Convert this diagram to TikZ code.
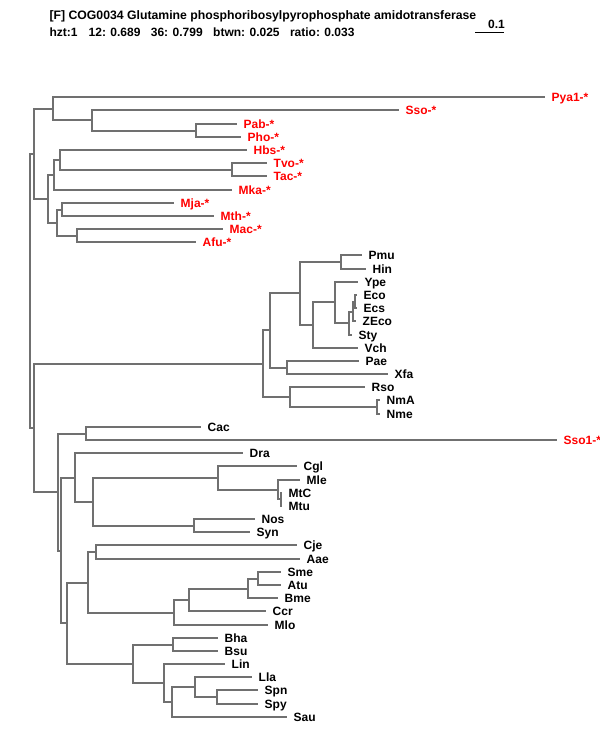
\documentclass[tikz,border=0pt]{standalone}
\usepackage{fontspec}
\setmainfont{Liberation Sans}
\definecolor{brc}{RGB}{112,112,112}
\newcommand\mkleaf[5]{\coordinate (#1) at (#2,#3); \node[#5] (t#1) at (#1) {#4};}
\begin{document}
\begin{tikzpicture}[x=1pt,y=-1pt,
  br/.style={draw=brc,line width=2pt},
  txt/.style={inner sep=0pt,font=\bfseries\fontsize{12}{14}\selectfont},
  lab/.style={txt,anchor=base west,xshift=6.5pt,yshift=-4.5pt},
  rl/.style={lab,text=red},
  bl/.style={lab,text=black}]
\fill[white] (0,0) rectangle (600,750);
\useasboundingbox (0,0) rectangle (600,750);
% header
\node[txt,anchor=base west,font=\bfseries\fontsize{12.25}{14}\selectfont] (title) at (49.3,19) {[F] COG0034 Glutamine phosphoribosylpyrophosphate amidotransferase};
\node[txt,anchor=base west] (h1) at (49.3,36.7) {hzt:1};
\node[txt,anchor=base west] (h2) at (88.5,36.7) {12: 0.689};
\node[txt,anchor=base west] (h3) at (150.7,36.7) {36: 0.799};
\node[txt,anchor=base west] (h4) at (213,36.7) {btwn: 0.025};
\node[txt,anchor=base west] (h5) at (289.8,36.7) {ratio: 0.033};
\coordinate (sb1) at (475,32.5);
\coordinate (sb2) at (504,32.5);
\draw[black,line width=1pt] (sb1) -- (sb2);
\node[txt,anchor=base east] (sbl) at (505,28.3) {0.1};
% leaves
\mkleaf{Pya1}{545}{97}{Pya1-*}{rl}
\mkleaf{Sso}{399}{110}{Sso-*}{rl}
\mkleaf{Pab}{237}{124}{Pab-*}{rl}
\mkleaf{Pho}{241}{137}{Pho-*}{rl}
\mkleaf{Hbs}{247}{150}{Hbs-*}{rl}
\mkleaf{Tvo}{267}{163}{Tvo-*}{rl}
\mkleaf{Tac}{267}{176}{Tac-*}{rl}
\mkleaf{Mka}{232}{190}{Mka-*}{rl}
\mkleaf{Mja}{174}{203}{Mja-*}{rl}
\mkleaf{Mth}{214}{216}{Mth-*}{rl}
\mkleaf{Mac}{223}{229}{Mac-*}{rl}
\mkleaf{Afu}{196}{242}{Afu-*}{rl}
\mkleaf{Pmu}{362}{255}{Pmu}{bl}
\mkleaf{Hin}{366}{269}{Hin}{bl}
\mkleaf{Ype}{358}{282}{Ype}{bl}
\mkleaf{Eco}{357}{295}{Eco}{bl}
\mkleaf{Ecs}{357}{308}{Ecs}{bl}
\mkleaf{ZEco}{356}{321}{ZEco}{bl}
\mkleaf{Sty}{352}{335}{Sty}{bl}
\mkleaf{Vch}{358}{348}{Vch}{bl}
\mkleaf{Pae}{359}{361}{Pae}{bl}
\mkleaf{Xfa}{388}{374}{Xfa}{bl}
\mkleaf{Rso}{365}{387}{Rso}{bl}
\mkleaf{NmA}{380}{400}{NmA}{bl}
\mkleaf{Nme}{380}{414}{Nme}{bl}
\mkleaf{Cac}{201}{427}{Cac}{bl}
\mkleaf{Sso1}{557}{440}{Sso1-*}{rl}
\mkleaf{Dra}{243}{453}{Dra}{bl}
\mkleaf{Cgl}{297}{466}{Cgl}{bl}
\mkleaf{Mle}{300}{480}{Mle}{bl}
\mkleaf{MtC}{282}{493}{MtC}{bl}
\mkleaf{Mtu}{282}{506}{Mtu}{bl}
\mkleaf{Nos}{255}{519}{Nos}{bl}
\mkleaf{Syn}{250}{532}{Syn}{bl}
\mkleaf{Cje}{297}{545}{Cje}{bl}
\mkleaf{Aae}{300}{559}{Aae}{bl}
\mkleaf{Sme}{281}{572}{Sme}{bl}
\mkleaf{Atu}{281}{585}{Atu}{bl}
\mkleaf{Bme}{278}{598}{Bme}{bl}
\mkleaf{Ccr}{266}{611}{Ccr}{bl}
\mkleaf{Mlo}{268}{625}{Mlo}{bl}
\mkleaf{Bha}{218}{638}{Bha}{bl}
\mkleaf{Bsu}{218}{651}{Bsu}{bl}
\mkleaf{Lin}{225}{664}{Lin}{bl}
\mkleaf{Lla}{252}{677}{Lla}{bl}
\mkleaf{Spn}{258}{690}{Spn}{bl}
\mkleaf{Spy}{258}{704}{Spy}{bl}
\mkleaf{Sau}{287}{717}{Sau}{bl}
% internal nodes: archaea
\coordinate (nPP) at (196,131);
\coordinate (nSP) at (92,120);
\coordinate (nA1) at (53,109);
\coordinate (nTT) at (232,170);
\coordinate (nHT) at (60,160);
\coordinate (nHM) at (54,175);
\coordinate (nMM) at (62,210);
\coordinate (nMA) at (77,236);
\coordinate (nMMA) at (57,223);
\coordinate (nA2) at (48,199);
\coordinate (nA) at (34,154);
% proteobacteria
\coordinate (nPH) at (341,262);
\coordinate (nEE) at (355,302);
\coordinate (nEZ) at (353,312);
\coordinate (nEZS) at (349,323);
\coordinate (nYE) at (335,302);
\coordinate (nYV) at (313,325);
\coordinate (nPY) at (300,293);
\coordinate (nPX) at (287,368);
\coordinate (nPP2) at (270,330);
\coordinate (nNN) at (377,407);
\coordinate (nRN) at (290,397);
\coordinate (nPROT) at (263,364);
% other bacteria
\coordinate (nCS) at (86,434);
\coordinate (nMM2) at (281,499);
\coordinate (nML) at (278,490);
\coordinate (nCM) at (218,478);
\coordinate (nNS) at (194,526);
\coordinate (nCN) at (93,502);
\coordinate (nDC) at (75,478);
\coordinate (nCA) at (96,552);
\coordinate (nSA) at (258,579);
\coordinate (nSAB) at (248,589);
\coordinate (nSABC) at (189,600);
\coordinate (nALPHA) at (174,613);
\coordinate (nCAA) at (88,583);
\coordinate (nBB) at (173,645);
\coordinate (nSS) at (217,697);
\coordinate (nLS) at (195,687);
\coordinate (nLSS) at (172,702);
\coordinate (nLL) at (164,683);
\coordinate (nFIRM) at (133,664);
\coordinate (nCF) at (67,623);
\coordinate (nDCF) at (61,551);
\coordinate (nCSD) at (58,492);
\coordinate (nBAC) at (34,428);
\coordinate (nROOT) at (30,291);
% edges
\draw[br] (nROOT) |- (nA);
\draw[br] (nROOT) |- (nBAC);
\draw[br] (nA) |- (nA1);
\draw[br] (nA) |- (nA2);
\draw[br] (nA1) |- (Pya1);
\draw[br] (nA1) |- (nSP);
\draw[br] (nSP) |- (Sso);
\draw[br] (nSP) |- (nPP);
\draw[br] (nPP) |- (Pab);
\draw[br] (nPP) |- (Pho);
\draw[br] (nA2) |- (nHM);
\draw[br] (nA2) |- (nMMA);
\draw[br] (nHM) |- (nHT);
\draw[br] (nHM) |- (Mka);
\draw[br] (nHT) |- (Hbs);
\draw[br] (nHT) |- (nTT);
\draw[br] (nTT) |- (Tvo);
\draw[br] (nTT) |- (Tac);
\draw[br] (nMMA) |- (nMM);
\draw[br] (nMMA) |- (nMA);
\draw[br] (nMM) |- (Mja);
\draw[br] (nMM) |- (Mth);
\draw[br] (nMA) |- (Mac);
\draw[br] (nMA) |- (Afu);
\draw[br] (nBAC) |- (nPROT);
\draw[br] (nBAC) |- (nCSD);
\draw[br] (nPROT) |- (nPP2);
\draw[br] (nPROT) |- (nRN);
\draw[br] (nPP2) |- (nPY);
\draw[br] (nPP2) |- (nPX);
\draw[br] (nPY) |- (nPH);
\draw[br] (nPY) |- (nYV);
\draw[br] (nPH) |- (Pmu);
\draw[br] (nPH) |- (Hin);
\draw[br] (nYV) |- (nYE);
\draw[br] (nYV) |- (Vch);
\draw[br] (nYE) |- (Ype);
\draw[br] (nYE) |- (nEZS);
\draw[br] (nEZS) |- (nEZ);
\draw[br] (nEZS) |- (Sty);
\draw[br] (nEZ) |- (nEE);
\draw[br] (nEZ) |- (ZEco);
\draw[br] (nEE) |- (Eco);
\draw[br] (nEE) |- (Ecs);
\draw[br] (nPX) |- (Pae);
\draw[br] (nPX) |- (Xfa);
\draw[br] (nRN) |- (Rso);
\draw[br] (nRN) |- (nNN);
\draw[br] (nNN) |- (NmA);
\draw[br] (nNN) |- (Nme);
\draw[br] (nCSD) |- (nCS);
\draw[br] (nCSD) |- (nDCF);
\draw[br] (nCS) |- (Cac);
\draw[br] (nCS) |- (Sso1);
\draw[br] (nDCF) |- (nDC);
\draw[br] (nDCF) |- (nCF);
\draw[br] (nDC) |- (Dra);
\draw[br] (nDC) |- (nCN);
\draw[br] (nCN) |- (nCM);
\draw[br] (nCN) |- (nNS);
\draw[br] (nCM) |- (Cgl);
\draw[br] (nCM) |- (nML);
\draw[br] (nML) |- (Mle);
\draw[br] (nML) |- (nMM2);
\draw[br] (nMM2) |- (MtC);
\draw[br] (nMM2) |- (Mtu);
\draw[br] (nNS) |- (Nos);
\draw[br] (nNS) |- (Syn);
\draw[br] (nCF) |- (nCAA);
\draw[br] (nCF) |- (nFIRM);
\draw[br] (nCAA) |- (nCA);
\draw[br] (nCAA) |- (nALPHA);
\draw[br] (nCA) |- (Cje);
\draw[br] (nCA) |- (Aae);
\draw[br] (nALPHA) |- (nSABC);
\draw[br] (nALPHA) |- (Mlo);
\draw[br] (nSABC) |- (nSAB);
\draw[br] (nSABC) |- (Ccr);
\draw[br] (nSAB) |- (nSA);
\draw[br] (nSAB) |- (Bme);
\draw[br] (nSA) |- (Sme);
\draw[br] (nSA) |- (Atu);
\draw[br] (nFIRM) |- (nBB);
\draw[br] (nFIRM) |- (nLL);
\draw[br] (nBB) |- (Bha);
\draw[br] (nBB) |- (Bsu);
\draw[br] (nLL) |- (Lin);
\draw[br] (nLL) |- (nLSS);
\draw[br] (nLSS) |- (nLS);
\draw[br] (nLSS) |- (Sau);
\draw[br] (nLS) |- (Lla);
\draw[br] (nLS) |- (nSS);
\draw[br] (nSS) |- (Spn);
\draw[br] (nSS) |- (Spy);
\end{tikzpicture}
\end{document}
